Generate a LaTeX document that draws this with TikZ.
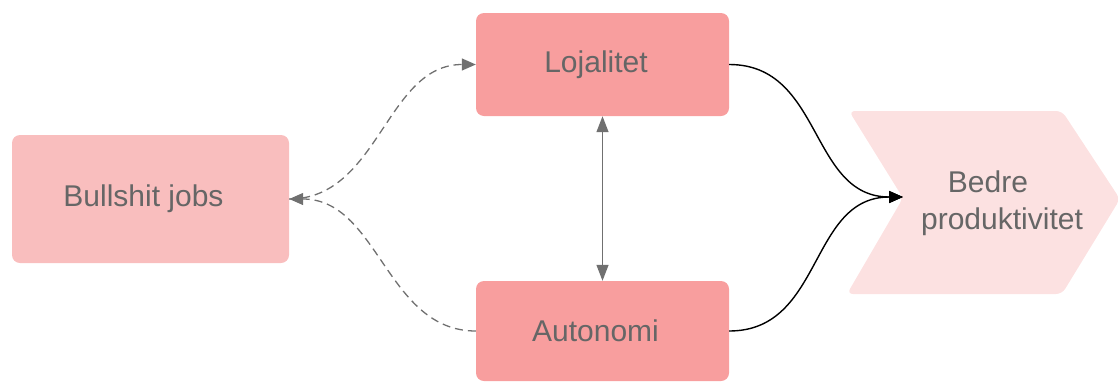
\documentclass[tikz,border=0pt]{standalone}
\usepackage{fontspec}
\setmainfont{Liberation Sans}
\usetikzlibrary{arrows.meta}
\definecolor{boxlight}{HTML}{F9BEBE}
\definecolor{boxmid}{HTML}{F89E9E}
\definecolor{chevfill}{HTML}{FCE1E1}
\definecolor{txtgray}{HTML}{666666}
\definecolor{linegray}{HTML}{707070}
\tikzset{
  card/.style={rounded corners=8pt, inner sep=0pt, text=txtgray,
    font=\fontsize{30}{37}\selectfont},
  dashlink/.style={draw=linegray, line width=1.3pt, dash pattern=on 8pt off 5pt,
    -{Triangle[length=14pt,width=12pt]}},
  solidlink/.style={draw=black, line width=1.4pt,
    -{Triangle[length=14pt,width=12pt]}},
  bothlink/.style={draw=linegray, line width=1.3pt,
    {Triangle[length=16pt,width=12pt]}-{Triangle[length=16pt,width=12pt]}},
}
\begin{document}
\begin{tikzpicture}[x=1pt,y=-1pt]
\useasboundingbox (0,0) rectangle (1118,381);

% boxes
\node[card, fill=boxlight, minimum width=277pt, minimum height=128pt] (bull) at (150.5,199) {\hspace*{-14pt}Bullshit jobs};
\node[card, fill=boxmid, minimum width=253pt, minimum height=103pt] (loj) at (602.5,64.5) {\hspace*{-13pt}Lojalitet};
\node[card, fill=boxmid, minimum width=253pt, minimum height=100pt] (aut) at (602.5,331) {\hspace*{-14pt}Autonomi};

% chevron
\fill[chevfill, rounded corners=6pt] (849,111) -- (1062,111) -- (1120,199) -- (1062,294) -- (847,294) -- (903,198) -- cycle;
\coordinate (notch) at (903,197);
\node[text=txtgray, font=\fontsize{30}{37}\selectfont, align=center] (prod) at (996,203)
  {\hspace*{-16pt}Bedre\\\hspace*{12pt}produktivitet};

% connectors
\draw[bothlink] (loj.south) -- (aut.north);
\draw[solidlink] (loj.east) to[out=0,in=180,looseness=1.1] (notch);
\draw[solidlink] (aut.east) to[out=0,in=180,looseness=1.1] (notch);
\draw[dashlink] (aut.west) to[out=180,in=0,looseness=1.0] (bull.east);
\draw[dashlink] (bull.east) to[out=0,in=180,looseness=1.0] (loj.west);
\end{tikzpicture}
\end{document}
